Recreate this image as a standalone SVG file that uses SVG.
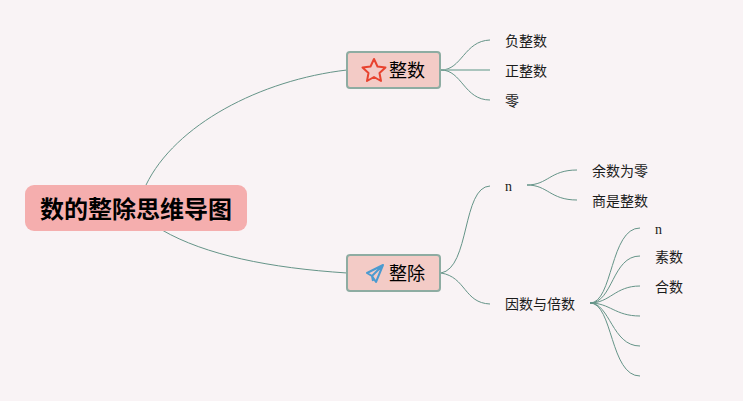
<svg xmlns="http://www.w3.org/2000/svg" width="743" height="401" viewBox="0 0 743 401">
<style>
text{font-family:"Liberation Sans","Noto Sans CJK SC",sans-serif;fill:#111}
.t{font-size:14px;fill:#1c1c1c}
.m{font-size:18px;fill:#000}
.r{font-size:24px;font-weight:700;font-family:"Noto Sans CJK SC",sans-serif;fill:#000}
.s{font-family:"Liberation Serif","Noto Sans CJK SC",serif;font-size:14px;fill:#1c1c1c}
.c path{fill:none;stroke:#659488;stroke-width:1}
.b{fill:#f3cbc6;stroke:#8eaca2;stroke-width:2}
</style>
<rect width="743" height="401" fill="#f9f3f5"/>
<g class="c" id="connectors">
<path d="M146 185C175 125 260 80 347 70"/>
<path d="M162 230C205 255 270 268 347 273"/>
<path d="M441 70C462 70 464 41 490 40"/>
<path d="M441 70H490" style="stroke-width:1.4;stroke:#8fb5aa"/>
<path d="M441 70C462 70 464 100 490 100"/>
<path d="M441 273C470 268 462 187 490 186"/>
<path d="M441 273C466 277 464 303 490 304"/>
<path d="M527 185C548 185 550 170 577 170"/>
<path d="M527 185C548 185 550 200 577 200"/>
<path d="M590 303C613 303 610 228 640 228"/>
<path d="M590 303C613 303 612 256 640 256"/>
<path d="M590 303C610 303 615 286 640 286"/>
<path d="M590 303C610 303 615 316 640 316"/>
<path d="M590 303C610 303 612 346 640 346"/>
<path d="M590 303C613 303 610 376 640 376"/>
</g>
<g id="root"><rect x="25" y="185" width="222" height="46" rx="9" fill="#f5aeae"/><text class="r" x="40" y="218" textLength="192">数的整除思维导图</text></g>
<g id="n-zhengshu"><rect class="b" x="347" y="52" width="93" height="36" rx="3"/>
<path d="M374 59L377.500 66.500L385.500 67.500L379.500 73L381 81L374 77L367 81L368.500 73L362.500 67.500L370.500 66.500Z" fill="none" stroke="#e8432f" stroke-width="2" stroke-linejoin="round"/>
<text class="m" x="389" y="77">整数</text></g>
<g id="n-zhengchu"><rect class="b" x="347" y="255" width="93" height="36" rx="3"/>
<path d="M383 265L367 273L372 276L376 282ZM383 265L372 276L373 281" fill="none" stroke="#4b9bd0" stroke-width="2" stroke-linejoin="round"/>
<text class="m" x="389" y="280">整除</text></g>
<g id="n1"><text class="t" x="505" y="46">负整数</text></g>
<g id="n2"><text class="t" x="505" y="76">正整数</text></g>
<g id="n3"><text class="t" x="505" y="106">零</text></g>
<g id="n4"><text class="s" x="505" y="191">n</text></g>
<g id="n5"><text class="t" x="592" y="176">余数为零</text></g>
<g id="n6"><text class="t" x="592" y="206">商是整数</text></g>
<g id="n7"><text class="t" x="505" y="309">因数与倍数</text></g>
<g id="n8"><text class="s" x="655" y="234">n</text></g>
<g id="n9"><text class="t" x="655" y="262">素数</text></g>
<g id="n10"><text class="t" x="655" y="292">合数</text></g>
</svg>
